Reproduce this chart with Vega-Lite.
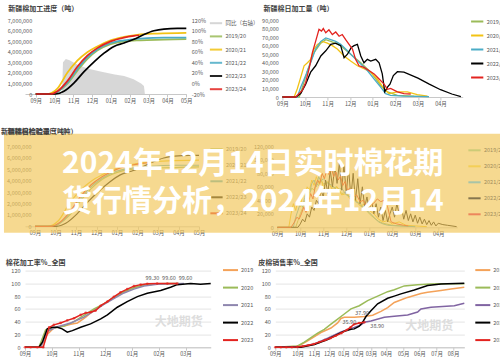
{
"$schema":"https://vega.github.io/schema/vega-lite/v6.json",
"background":"white",
"padding":{"left":0,"top":4,"right":0,"bottom":0},
"config":{
 "font":"Noto Sans CJK SC",
 "view":{"stroke":null},
 "axis":{"labelFontSize":5.5,"labelColor":"#595959","grid":false,"domain":false,"ticks":false,"labelPadding":4,"labelOverlap":false,"labelFlush":false},
 "axisX":{"domain":true,"domainColor":"#c8c8c8","ticks":true,"tickColor":"#c8c8c8","tickSize":3,"labelPadding":1,"labelOverlap":false,"tickCount":60},
 "legend":{"title":null,"labelFontSize":5.5,"labelColor":"#595959","symbolType":"stroke","symbolStrokeWidth":2,"symbolSize":150,"padding":0,"labelOffset":2,"orient":"none"},
 "title":{"fontSize":7,"fontWeight":"bold","color":"#404040","anchor":"start","frame":"bounds","offset":8}
},
"datasets":{
 "A":[
  {"s":"2019/20","m":0,"v":0},{"s":"2019/20","m":0.9,"v":0},{"s":"2019/20","m":1.15,"v":200000},{"s":"2019/20","m":1.68,"v":960000},{"s":"2019/20","m":2.21,"v":2190000},{"s":"2019/20","m":2.74,"v":3300000},{"s":"2019/20","m":3.27,"v":4100000},{"s":"2019/20","m":3.98,"v":4700000},{"s":"2019/20","m":4.69,"v":4980000},{"s":"2019/20","m":5.58,"v":5080000},{"s":"2019/20","m":6.81,"v":5140000},{"s":"2019/20","m":8,"v":5200000},
  {"s":"2020/21","m":0,"v":0},{"s":"2020/21","m":0.62,"v":0},{"s":"2020/21","m":1.15,"v":510000},{"s":"2020/21","m":1.68,"v":2000000},{"s":"2020/21","m":2.21,"v":3150000},{"s":"2020/21","m":2.74,"v":3950000},{"s":"2020/21","m":3.27,"v":4500000},{"s":"2020/21","m":3.98,"v":5080000},{"s":"2020/21","m":4.69,"v":5400000},{"s":"2020/21","m":5.4,"v":5600000},{"s":"2020/21","m":6.46,"v":5720000},{"s":"2020/21","m":8,"v":5790000},
  {"s":"2021/22","m":0,"v":0},{"s":"2021/22","m":0.9,"v":0},{"s":"2021/22","m":1.15,"v":190000},{"s":"2021/22","m":1.68,"v":1060000},{"s":"2021/22","m":2.21,"v":2350000},{"s":"2021/22","m":2.74,"v":3470000},{"s":"2021/22","m":3.27,"v":4210000},{"s":"2021/22","m":3.98,"v":4820000},{"s":"2021/22","m":4.69,"v":5080000},{"s":"2021/22","m":5.58,"v":5240000},{"s":"2021/22","m":6.81,"v":5340000},{"s":"2021/22","m":8,"v":5340000},
  {"s":"2022/23","m":0,"v":0},{"s":"2022/23","m":1.06,"v":0},{"s":"2022/23","m":1.5,"v":260000},{"s":"2022/23","m":2.04,"v":1060000},{"s":"2022/23","m":2.57,"v":2120000},{"s":"2022/23","m":3.1,"v":3050000},{"s":"2022/23","m":3.63,"v":3860000},{"s":"2022/23","m":4.16,"v":4500000},{"s":"2022/23","m":4.69,"v":4820000},{"s":"2022/23","m":5.22,"v":5180000},{"s":"2022/23","m":5.75,"v":5630000},{"s":"2022/23","m":6.28,"v":5980000},{"s":"2022/23","m":6.81,"v":6140000},{"s":"2022/23","m":7.52,"v":6200000},{"s":"2022/23","m":8,"v":6200000},
  {"s":"2023/24","m":0,"v":0},{"s":"2023/24","m":0.8,"v":0},{"s":"2023/24","m":1.15,"v":260000},{"s":"2023/24","m":1.68,"v":1220000},{"s":"2023/24","m":2.21,"v":2570000},{"s":"2023/24","m":2.74,"v":3630000},{"s":"2023/24","m":3.27,"v":4340000},{"s":"2023/24","m":3.98,"v":4980000},{"s":"2023/24","m":4.69,"v":5340000},{"s":"2023/24","m":5.22,"v":5500000},{"s":"2023/24","m":5.5,"v":5560000}
 ],
 "Aarea":[
  {"m":1.4,"p":-20},{"m":1.45,"p":40},{"m":1.6,"p":46},{"m":1.8,"p":44},{"m":2.2,"p":36},{"m":2.8,"p":28},{"m":3.5,"p":22},{"m":4.2,"p":17},{"m":4.7,"p":14},{"m":5.2,"p":8},{"m":5.6,"p":0},{"m":5.75,"p":-5},{"m":5.8,"p":-20}
 ],
 "B":[
  {"s":"2019/20","m":0,"v":0},{"s":"2019/20","m":0.74,"v":0},{"s":"2019/20","m":0.81,"v":5000},{"s":"2019/20","m":1.11,"v":31000},{"s":"2019/20","m":1.4,"v":52000},{"s":"2019/20","m":1.7,"v":63000},{"s":"2019/20","m":1.92,"v":67000},{"s":"2019/20","m":2.14,"v":65000},{"s":"2019/20","m":2.58,"v":60000},{"s":"2019/20","m":3.02,"v":50000},{"s":"2019/20","m":3.47,"v":40000},{"s":"2019/20","m":3.91,"v":29000},{"s":"2019/20","m":4.35,"v":13500},{"s":"2019/20","m":4.65,"v":6000},{"s":"2019/20","m":5.09,"v":2000},{"s":"2019/20","m":5.83,"v":1000},{"s":"2019/20","m":6.49,"v":500},
  {"s":"2020/21","m":0,"v":0},{"s":"2020/21","m":0.52,"v":0},{"s":"2020/21","m":0.66,"v":9600},{"s":"2020/21","m":0.81,"v":23000},{"s":"2020/21","m":0.96,"v":36500},{"s":"2020/21","m":1.11,"v":40000},{"s":"2020/21","m":1.25,"v":44000},{"s":"2020/21","m":1.4,"v":56000},{"s":"2020/21","m":1.55,"v":61500},{"s":"2020/21","m":1.77,"v":65000},{"s":"2020/21","m":1.99,"v":63000},{"s":"2020/21","m":2.21,"v":60000},{"s":"2020/21","m":2.43,"v":56000},{"s":"2020/21","m":2.73,"v":48000},{"s":"2020/21","m":3.02,"v":42000},{"s":"2020/21","m":3.32,"v":36500},{"s":"2020/21","m":3.61,"v":33000},{"s":"2020/21","m":3.91,"v":29000},{"s":"2020/21","m":4.2,"v":21000},{"s":"2020/21","m":4.5,"v":9600},{"s":"2020/21","m":4.72,"v":4000},{"s":"2020/21","m":5.09,"v":6000},{"s":"2020/21","m":5.53,"v":6000},{"s":"2020/21","m":5.97,"v":2700},{"s":"2020/21","m":6.42,"v":1000},
  {"s":"2021/22","m":0,"v":0},{"s":"2021/22","m":0.66,"v":0},{"s":"2021/22","m":0.81,"v":11500},{"s":"2021/22","m":1.03,"v":25000},{"s":"2021/22","m":1.25,"v":40000},{"s":"2021/22","m":1.47,"v":56000},{"s":"2021/22","m":1.7,"v":65000},{"s":"2021/22","m":1.92,"v":69000},{"s":"2021/22","m":2.14,"v":67000},{"s":"2021/22","m":2.36,"v":65000},{"s":"2021/22","m":2.58,"v":61500},{"s":"2021/22","m":2.88,"v":54000},{"s":"2021/22","m":3.17,"v":46000},{"s":"2021/22","m":3.47,"v":38500},{"s":"2021/22","m":3.76,"v":31000},{"s":"2021/22","m":4.06,"v":21000},{"s":"2021/22","m":4.35,"v":11500},{"s":"2021/22","m":4.57,"v":4000},{"s":"2021/22","m":4.79,"v":2000},{"s":"2021/22","m":5.38,"v":1000},{"s":"2021/22","m":6.49,"v":500},
  {"s":"2022/23","m":0,"v":0},{"s":"2022/23","m":0.59,"v":0},{"s":"2022/23","m":0.81,"v":4000},{"s":"2022/23","m":1.03,"v":15000},{"s":"2022/23","m":1.25,"v":29000},{"s":"2022/23","m":1.47,"v":36500},{"s":"2022/23","m":1.7,"v":48000},{"s":"2022/23","m":1.92,"v":54000},{"s":"2022/23","m":2.14,"v":61500},{"s":"2022/23","m":2.36,"v":63000},{"s":"2022/23","m":2.58,"v":60000},{"s":"2022/23","m":2.73,"v":46000},{"s":"2022/23","m":2.88,"v":50000},{"s":"2022/23","m":3.05,"v":58000},{"s":"2022/23","m":3.17,"v":60000},{"s":"2022/23","m":3.32,"v":61500},{"s":"2022/23","m":3.47,"v":48000},{"s":"2022/23","m":3.61,"v":40000},{"s":"2022/23","m":3.76,"v":44000},{"s":"2022/23","m":3.91,"v":42000},{"s":"2022/23","m":4.13,"v":44000},{"s":"2022/23","m":4.28,"v":40000},{"s":"2022/23","m":4.42,"v":27000},{"s":"2022/23","m":4.53,"v":6000},{"s":"2022/23","m":4.65,"v":11500},{"s":"2022/23","m":4.76,"v":15000},{"s":"2022/23","m":4.91,"v":25000},{"s":"2022/23","m":5.09,"v":29600},{"s":"2022/23","m":5.38,"v":29000},{"s":"2022/23","m":6.0,"v":22000},{"s":"2022/23","m":6.5,"v":15000},{"s":"2022/23","m":7.0,"v":8500},{"s":"2022/23","m":7.5,"v":3500},{"s":"2022/23","m":7.9,"v":500},
  {"s":"2023/24","m":0,"v":0},{"s":"2023/24","m":0.59,"v":0},{"s":"2023/24","m":0.74,"v":4000},{"s":"2023/24","m":0.88,"v":7700},{"s":"2023/24","m":1.03,"v":17000},{"s":"2023/24","m":1.18,"v":33000},{"s":"2023/24","m":1.33,"v":52000},{"s":"2023/24","m":1.47,"v":65000},{"s":"2023/24","m":1.62,"v":79000},{"s":"2023/24","m":1.73,"v":77000},{"s":"2023/24","m":1.81,"v":80000},{"s":"2023/24","m":1.92,"v":75000},{"s":"2023/24","m":2.06,"v":78500},{"s":"2023/24","m":2.21,"v":73000},{"s":"2023/24","m":2.36,"v":76000},{"s":"2023/24","m":2.51,"v":71000},{"s":"2023/24","m":2.65,"v":73000},{"s":"2023/24","m":2.8,"v":67000},{"s":"2023/24","m":2.95,"v":61500},{"s":"2023/24","m":3.1,"v":56000},{"s":"2023/24","m":3.24,"v":44000},{"s":"2023/24","m":3.39,"v":36500},{"s":"2023/24","m":3.61,"v":34600},{"s":"2023/24","m":3.83,"v":31000},{"s":"2023/24","m":4.06,"v":27000},{"s":"2023/24","m":4.28,"v":21000},{"s":"2023/24","m":4.5,"v":15000},{"s":"2023/24","m":4.65,"v":9000},{"s":"2023/24","m":4.79,"v":10000},{"s":"2023/24","m":5.09,"v":6000},{"s":"2023/24","m":5.38,"v":4000},{"s":"2023/24","m":5.68,"v":3500}
 ],
 "D":[
  {"s":"2019/20","m":0,"v":0},{"s":"2019/20","m":0.8,"v":0},{"s":"2019/20","m":0.9,"v":10000},{"s":"2019/20","m":1.0,"v":20000},{"s":"2019/20","m":1.1,"v":28000},{"s":"2019/20","m":1.2,"v":40000},{"s":"2019/20","m":1.3,"v":35000},{"s":"2019/20","m":1.4,"v":50000},{"s":"2019/20","m":1.5,"v":58000},{"s":"2019/20","m":1.6,"v":55000},{"s":"2019/20","m":1.7,"v":65000},{"s":"2019/20","m":1.8,"v":62000},{"s":"2019/20","m":1.9,"v":70000},{"s":"2019/20","m":2.0,"v":64000},{"s":"2019/20","m":2.2,"v":66000},{"s":"2019/20","m":2.4,"v":58000},{"s":"2019/20","m":2.6,"v":60000},{"s":"2019/20","m":2.8,"v":50000},{"s":"2019/20","m":3.0,"v":52000},{"s":"2019/20","m":3.2,"v":42000},{"s":"2019/20","m":3.4,"v":40000},{"s":"2019/20","m":3.6,"v":32000},{"s":"2019/20","m":3.8,"v":28000},{"s":"2019/20","m":4.0,"v":20000},{"s":"2019/20","m":4.2,"v":14000},{"s":"2019/20","m":4.4,"v":9000},{"s":"2019/20","m":4.6,"v":6000},{"s":"2019/20","m":5.0,"v":3000},{"s":"2019/20","m":5.5,"v":2000},{"s":"2019/20","m":6.0,"v":1000},
  {"s":"2020/21","m":0,"v":0},{"s":"2020/21","m":0.5,"v":0},{"s":"2020/21","m":0.6,"v":20000},{"s":"2020/21","m":0.7,"v":35000},{"s":"2020/21","m":0.8,"v":25000},{"s":"2020/21","m":0.9,"v":40000},{"s":"2020/21","m":1.0,"v":30000},{"s":"2020/21","m":1.1,"v":50000},{"s":"2020/21","m":1.2,"v":45000},{"s":"2020/21","m":1.3,"v":60000},{"s":"2020/21","m":1.4,"v":55000},{"s":"2020/21","m":1.5,"v":70000},{"s":"2020/21","m":1.6,"v":62000},{"s":"2020/21","m":1.7,"v":75000},{"s":"2020/21","m":1.8,"v":65000},{"s":"2020/21","m":1.9,"v":72000},{"s":"2020/21","m":2.0,"v":60000},{"s":"2020/21","m":2.2,"v":68000},{"s":"2020/21","m":2.4,"v":55000},{"s":"2020/21","m":2.6,"v":60000},{"s":"2020/21","m":2.8,"v":48000},{"s":"2020/21","m":3.0,"v":50000},{"s":"2020/21","m":3.2,"v":40000},{"s":"2020/21","m":3.4,"v":42000},{"s":"2020/21","m":3.6,"v":32000},{"s":"2020/21","m":3.8,"v":34000},{"s":"2020/21","m":4.0,"v":25000},{"s":"2020/21","m":4.2,"v":20000},{"s":"2020/21","m":4.4,"v":12000},{"s":"2020/21","m":4.6,"v":8000},{"s":"2020/21","m":4.8,"v":10000},{"s":"2020/21","m":5.0,"v":5000},{"s":"2020/21","m":5.3,"v":8000},{"s":"2020/21","m":5.6,"v":3000},{"s":"2020/21","m":6.0,"v":2000},{"s":"2020/21","m":6.5,"v":1000},
  {"s":"2021/22","m":0,"v":0},{"s":"2021/22","m":0.7,"v":0},{"s":"2021/22","m":0.8,"v":15000},{"s":"2021/22","m":0.9,"v":25000},{"s":"2021/22","m":1.0,"v":35000},{"s":"2021/22","m":1.1,"v":30000},{"s":"2021/22","m":1.2,"v":45000},{"s":"2021/22","m":1.3,"v":55000},{"s":"2021/22","m":1.4,"v":50000},{"s":"2021/22","m":1.5,"v":65000},{"s":"2021/22","m":1.6,"v":70000},{"s":"2021/22","m":1.7,"v":60000},{"s":"2021/22","m":1.8,"v":75000},{"s":"2021/22","m":1.9,"v":68000},{"s":"2021/22","m":2.0,"v":72000},{"s":"2021/22","m":2.2,"v":65000},{"s":"2021/22","m":2.4,"v":62000},{"s":"2021/22","m":2.6,"v":55000},{"s":"2021/22","m":2.8,"v":58000},{"s":"2021/22","m":3.0,"v":48000},{"s":"2021/22","m":3.2,"v":45000},{"s":"2021/22","m":3.4,"v":38000},{"s":"2021/22","m":3.6,"v":35000},{"s":"2021/22","m":3.8,"v":28000},{"s":"2021/22","m":4.0,"v":22000},{"s":"2021/22","m":4.2,"v":15000},{"s":"2021/22","m":4.4,"v":8000},{"s":"2021/22","m":4.6,"v":5000},{"s":"2021/22","m":4.8,"v":3000},{"s":"2021/22","m":5.2,"v":2000},{"s":"2021/22","m":6.0,"v":1000},
  {"s":"2022/23","m":0,"v":0},{"s":"2022/23","m":0.9,"v":0},{"s":"2022/23","m":1.0,"v":5000},{"s":"2022/23","m":1.1,"v":12000},{"s":"2022/23","m":1.2,"v":8000},{"s":"2022/23","m":1.3,"v":20000},{"s":"2022/23","m":1.4,"v":15000},{"s":"2022/23","m":1.5,"v":30000},{"s":"2022/23","m":1.6,"v":25000},{"s":"2022/23","m":1.7,"v":40000},{"s":"2022/23","m":1.8,"v":35000},{"s":"2022/23","m":1.9,"v":55000},{"s":"2022/23","m":2.0,"v":45000},{"s":"2022/23","m":2.1,"v":70000},{"s":"2022/23","m":2.2,"v":50000},{"s":"2022/23","m":2.3,"v":85000},{"s":"2022/23","m":2.4,"v":60000},{"s":"2022/23","m":2.5,"v":90000},{"s":"2022/23","m":2.6,"v":65000},{"s":"2022/23","m":2.7,"v":95000},{"s":"2022/23","m":2.8,"v":55000},{"s":"2022/23","m":2.9,"v":92000},{"s":"2022/23","m":3.0,"v":50000},{"s":"2022/23","m":3.1,"v":88000},{"s":"2022/23","m":3.2,"v":45000},{"s":"2022/23","m":3.3,"v":80000},{"s":"2022/23","m":3.4,"v":40000},{"s":"2022/23","m":3.5,"v":72000},{"s":"2022/23","m":3.6,"v":35000},{"s":"2022/23","m":3.7,"v":60000},{"s":"2022/23","m":3.8,"v":30000},{"s":"2022/23","m":3.9,"v":45000},{"s":"2022/23","m":4.0,"v":25000},{"s":"2022/23","m":4.1,"v":40000},{"s":"2022/23","m":4.2,"v":20000},{"s":"2022/23","m":4.3,"v":35000},{"s":"2022/23","m":4.4,"v":15000},{"s":"2022/23","m":4.5,"v":30000},{"s":"2022/23","m":4.6,"v":10000},{"s":"2022/23","m":4.7,"v":25000},{"s":"2022/23","m":4.8,"v":8000},{"s":"2022/23","m":4.9,"v":20000},{"s":"2022/23","m":5.0,"v":30000},{"s":"2022/23","m":5.1,"v":15000},{"s":"2022/23","m":5.2,"v":35000},{"s":"2022/23","m":5.3,"v":20000},{"s":"2022/23","m":5.4,"v":30000},{"s":"2022/23","m":5.5,"v":12000},{"s":"2022/23","m":5.6,"v":25000},{"s":"2022/23","m":5.7,"v":10000},{"s":"2022/23","m":5.8,"v":20000},{"s":"2022/23","m":5.9,"v":8000},{"s":"2022/23","m":6.0,"v":18000},{"s":"2022/23","m":6.1,"v":6000},{"s":"2022/23","m":6.2,"v":15000},{"s":"2022/23","m":6.3,"v":5000},{"s":"2022/23","m":6.4,"v":12000},{"s":"2022/23","m":6.5,"v":4000},{"s":"2022/23","m":6.6,"v":10000},{"s":"2022/23","m":6.7,"v":3000},{"s":"2022/23","m":6.8,"v":8000},{"s":"2022/23","m":6.9,"v":2000},{"s":"2022/23","m":7.0,"v":6000},{"s":"2022/23","m":7.2,"v":4000},{"s":"2022/23","m":7.4,"v":3000},{"s":"2022/23","m":7.6,"v":2000},{"s":"2022/23","m":7.8,"v":1000},
  {"s":"2023/24","m":0,"v":0},{"s":"2023/24","m":0.6,"v":0},{"s":"2023/24","m":0.75,"v":8000},{"s":"2023/24","m":0.85,"v":15000},{"s":"2023/24","m":0.95,"v":12000},{"s":"2023/24","m":1.05,"v":20000},{"s":"2023/24","m":1.15,"v":30000},{"s":"2023/24","m":1.25,"v":22000},{"s":"2023/24","m":1.35,"v":35000},{"s":"2023/24","m":1.45,"v":50000},{"s":"2023/24","m":1.55,"v":42000},{"s":"2023/24","m":1.65,"v":60000},{"s":"2023/24","m":1.75,"v":70000},{"s":"2023/24","m":1.85,"v":65000},{"s":"2023/24","m":1.95,"v":80000},{"s":"2023/24","m":2.05,"v":72000},{"s":"2023/24","m":2.15,"v":85000},{"s":"2023/24","m":2.25,"v":78000},{"s":"2023/24","m":2.35,"v":88000},{"s":"2023/24","m":2.45,"v":75000},{"s":"2023/24","m":2.55,"v":82000},{"s":"2023/24","m":2.65,"v":70000},{"s":"2023/24","m":2.75,"v":76000},{"s":"2023/24","m":2.85,"v":62000},{"s":"2023/24","m":2.95,"v":68000},{"s":"2023/24","m":3.05,"v":55000},{"s":"2023/24","m":3.15,"v":58000},{"s":"2023/24","m":3.3,"v":45000},{"s":"2023/24","m":3.45,"v":48000},{"s":"2023/24","m":3.6,"v":38000},{"s":"2023/24","m":3.75,"v":40000},{"s":"2023/24","m":3.9,"v":30000},{"s":"2023/24","m":4.05,"v":32000},{"s":"2023/24","m":4.2,"v":36000},{"s":"2023/24","m":4.35,"v":42000},{"s":"2023/24","m":4.5,"v":38000},{"s":"2023/24","m":4.65,"v":40000},{"s":"2023/24","m":4.8,"v":30000},{"s":"2023/24","m":4.95,"v":8000},{"s":"2023/24","m":5.2,"v":5000},{"s":"2023/24","m":5.5,"v":3000},{"s":"2023/24","m":5.7,"v":2000}
 ],
 "E":[
  {"s":"2019","m":0,"v":0},{"s":"2019","m":0.59,"v":0},{"s":"2019","m":0.83,"v":20},{"s":"2019","m":1.08,"v":30},{"s":"2019","m":1.46,"v":33},{"s":"2019","m":1.71,"v":36},{"s":"2019","m":1.96,"v":38},{"s":"2019","m":2.27,"v":47},{"s":"2019","m":2.58,"v":58},{"s":"2019","m":2.95,"v":68},{"s":"2019","m":3.32,"v":78},{"s":"2019","m":3.7,"v":86},{"s":"2019","m":4.07,"v":93},{"s":"2019","m":4.45,"v":97},{"s":"2019","m":4.94,"v":99.3},{"s":"2019","m":5.69,"v":99.5},
  {"s":"2020","m":0,"v":0},{"s":"2020","m":0.52,"v":0},{"s":"2020","m":0.77,"v":27},{"s":"2020","m":1.08,"v":30},{"s":"2020","m":1.46,"v":33},{"s":"2020","m":1.83,"v":40},{"s":"2020","m":2.2,"v":50},{"s":"2020","m":2.58,"v":60},{"s":"2020","m":2.95,"v":68},{"s":"2020","m":3.32,"v":78},{"s":"2020","m":3.7,"v":87},{"s":"2020","m":4.07,"v":93},{"s":"2020","m":4.45,"v":97},{"s":"2020","m":4.94,"v":99.3},{"s":"2020","m":5.44,"v":99.6},{"s":"2020","m":5.75,"v":99.6},
  {"s":"2021","m":0,"v":0},{"s":"2021","m":0.59,"v":0},{"s":"2021","m":0.83,"v":25},{"s":"2021","m":1.21,"v":32},{"s":"2021","m":1.71,"v":38},{"s":"2021","m":2.2,"v":47},{"s":"2021","m":2.58,"v":57},{"s":"2021","m":2.95,"v":67},{"s":"2021","m":3.32,"v":76},{"s":"2021","m":3.7,"v":85},{"s":"2021","m":4.07,"v":91},{"s":"2021","m":4.45,"v":96},{"s":"2021","m":4.94,"v":98.5},{"s":"2021","m":5.44,"v":99.3},{"s":"2021","m":5.94,"v":99.6},
  {"s":"2022","m":0,"v":0},{"s":"2022","m":0.52,"v":0},{"s":"2022","m":0.65,"v":7.8},{"s":"2022","m":0.83,"v":28.7},{"s":"2022","m":1.02,"v":31.3},{"s":"2022","m":1.21,"v":31.3},{"s":"2022","m":1.39,"v":28.7},{"s":"2022","m":1.58,"v":23.5},{"s":"2022","m":1.77,"v":26},{"s":"2022","m":2.08,"v":31.3},{"s":"2022","m":2.45,"v":36.5},{"s":"2022","m":2.83,"v":44.3},{"s":"2022","m":3.08,"v":50.6},{"s":"2022","m":3.45,"v":62.6},{"s":"2022","m":3.82,"v":71.5},{"s":"2022","m":4.2,"v":79.3},{"s":"2022","m":4.57,"v":84.5},{"s":"2022","m":5.07,"v":88.7},{"s":"2022","m":5.44,"v":94},{"s":"2022","m":5.69,"v":98},{"s":"2022","m":6.19,"v":99.6},{"s":"2022","m":6.56,"v":98.6},{"s":"2022","m":6.94,"v":99.6},
  {"s":"2023","m":0,"v":0},{"s":"2023","m":0.21,"v":0},{"s":"2023","m":0.46,"v":0},{"s":"2023","m":0.68,"v":0},{"s":"2023","m":0.9,"v":31},{"s":"2023","m":1.08,"v":35},{"s":"2023","m":1.33,"v":38},{"s":"2023","m":1.58,"v":42},{"s":"2023","m":1.83,"v":45.4},{"s":"2023","m":2.08,"v":50.6},{"s":"2023","m":2.27,"v":53.8},{"s":"2023","m":2.45,"v":54.8},{"s":"2023","m":2.64,"v":57.4},{"s":"2023","m":2.83,"v":65},{"s":"2023","m":3.08,"v":71.5},{"s":"2023","m":3.32,"v":79},{"s":"2023","m":3.57,"v":86},{"s":"2023","m":3.82,"v":91},{"s":"2023","m":4.07,"v":95.6},{"s":"2023","m":4.32,"v":98},{"s":"2023","m":4.57,"v":99.3},{"s":"2023","m":4.94,"v":99.6},{"s":"2023","m":5.32,"v":99.6},{"s":"2023","m":5.69,"v":99.6}
 ],
 "Elab":[{"t":"99.30","m":4.76,"v":109},{"t":"99.60","m":5.38,"v":109},{"t":"99.60","m":6.0,"v":109}],
 "F":[
  {"s":"2019","t":0,"v":0},{"s":"2019","t":6.09,"v":1},{"s":"2019","t":8.82,"v":10},{"s":"2019","t":12.45,"v":23},{"s":"2019","t":15.18,"v":30},{"s":"2019","t":17,"v":38},{"s":"2019","t":17.9,"v":45},{"s":"2019","t":18.82,"v":47},{"s":"2019","t":21.55,"v":47},{"s":"2019","t":24.27,"v":48},{"s":"2019","t":26.55,"v":50},{"s":"2019","t":28.82,"v":56},{"s":"2019","t":30.64,"v":62},{"s":"2019","t":32.45,"v":70},{"s":"2019","t":34.73,"v":75},{"s":"2019","t":36.09,"v":78},{"s":"2019","t":39.73,"v":84},{"s":"2019","t":41.55,"v":86},{"s":"2019","t":45.18,"v":88.7},{"s":"2019","t":47.91,"v":91},{"s":"2019","t":51.55,"v":94},
  {"s":"2020","t":0,"v":0},{"s":"2020","t":6.09,"v":2},{"s":"2020","t":7.91,"v":8},{"s":"2020","t":9.73,"v":15},{"s":"2020","t":11.55,"v":22},{"s":"2020","t":13.36,"v":28},{"s":"2020","t":15.18,"v":36},{"s":"2020","t":17,"v":44},{"s":"2020","t":18.82,"v":52},{"s":"2020","t":20.64,"v":60},{"s":"2020","t":22.91,"v":65},{"s":"2020","t":25.18,"v":73},{"s":"2020","t":27.91,"v":80},{"s":"2020","t":30.64,"v":87},{"s":"2020","t":32.45,"v":90},{"s":"2020","t":35.18,"v":96},{"s":"2020","t":38.82,"v":98},{"s":"2020","t":42.45,"v":99},{"s":"2020","t":45.18,"v":99.5},{"s":"2020","t":51.55,"v":99.5},
  {"s":"2021","t":0,"v":0},{"s":"2021","t":7,"v":1},{"s":"2021","t":10.64,"v":5},{"s":"2021","t":14.27,"v":14},{"s":"2021","t":17.91,"v":24},{"s":"2021","t":21.55,"v":31},{"s":"2021","t":23.36,"v":35},{"s":"2021","t":24.27,"v":39},{"s":"2021","t":26.09,"v":41},{"s":"2021","t":29.73,"v":47},{"s":"2021","t":32.45,"v":48.5},{"s":"2021","t":36.09,"v":50.6},{"s":"2021","t":38.82,"v":55},{"s":"2021","t":39.73,"v":60},{"s":"2021","t":42.45,"v":62.6},{"s":"2021","t":48.82,"v":65},{"s":"2021","t":51.55,"v":69},
  {"s":"2022","t":0,"v":0},{"s":"2022","t":7,"v":0},{"s":"2022","t":10.64,"v":4},{"s":"2022","t":14.27,"v":12},{"s":"2022","t":17,"v":20},{"s":"2022","t":18.82,"v":25},{"s":"2022","t":20.64,"v":28},{"s":"2022","t":21.55,"v":28.7},{"s":"2022","t":22.91,"v":33},{"s":"2022","t":23.8,"v":39},{"s":"2022","t":24.73,"v":48},{"s":"2022","t":26.09,"v":57},{"s":"2022","t":27.91,"v":68},{"s":"2022","t":30.64,"v":76.7},{"s":"2022","t":32.45,"v":80},{"s":"2022","t":34.27,"v":83.5},{"s":"2022","t":37.91,"v":89.7},{"s":"2022","t":41.55,"v":96.5},{"s":"2022","t":45.18,"v":99},{"s":"2022","t":47,"v":99.5},{"s":"2022","t":51.55,"v":100},
  {"s":"2023","t":0,"v":0},{"s":"2023","t":1.5,"v":0},{"s":"2023","t":3,"v":0},{"s":"2023","t":4.5,"v":0},{"s":"2023","t":6,"v":0.5},{"s":"2023","t":7.5,"v":1.5},{"s":"2023","t":9,"v":3},{"s":"2023","t":10.5,"v":5},{"s":"2023","t":12,"v":8},{"s":"2023","t":13.5,"v":11},{"s":"2023","t":15,"v":14},{"s":"2023","t":16.5,"v":18},{"s":"2023","t":18,"v":22},{"s":"2023","t":19.5,"v":27},{"s":"2023","t":20.5,"v":31},{"s":"2023","t":21.5,"v":35.9},{"s":"2023","t":22.9,"v":37.9},{"s":"2023","t":24.3,"v":38.9}
 ],
 "Flab":[{"t":"37.90","x":23.7,"v":53.7},{"t":"35.90","x":20.2,"v":39.6},{"t":"38.90","x":27.8,"v":33.4}]
},
"concat":[
 {"concat":[
  {"width":161.3,"height":74,
   "title":{"text":"新疆棉加工进度（吨）","dx":1,"offset":4.2},
   "layer":[
    {"data":{"name":"Aarea"},"mark":{"type":"area","color":"#dcdcdc","opacity":0.85},
     "encoding":{
      "x":{"field":"m","type":"quantitative","title":null,"scale":{"domain":[-0.568,8],"nice":false},"axis":{"labelOverlap":false,"tickCount":60,"values":[0,1,2,3,4,5,6,7,8],"labelExpr":"['09月','10月','11月','12月','01月','02月','03月','04月','05月'][datum.value]"}},
      "y":{"field":"p","type":"quantitative","title":null,"scale":{"domain":[-20,120],"nice":false},"axis":{"orient":"right","labelPadding":5,"tickCount":60,"values":[-20,0,20,40,60,80,100,120],"labelExpr":"datum.value + '%'"}},
      "y2":{"datum":-20},
      "color":{"datum":"同比（右轴）","type":"nominal","scale":{"domain":["同比（右轴）","2019/20","2020/21","2021/22","2022/23","2023/24"],"range":["#d0d0d0","#9bbb59","#f2c314","#4bacc6","#000000","#e3231f"]},"legend":{"rowPadding":1.2,"legendX":183.5,"legendY":-4.3}}
     }},
    {"data":{"name":"A"},"mark":{"type":"line","interpolate":"monotone","strokeWidth":1.7},
     "encoding":{
      "x":{"field":"m","type":"quantitative","title":null,"scale":{"domain":[-0.568,8],"nice":false}},
      "y":{"field":"v","type":"quantitative","title":null,"scale":{"domain":[0,7000000],"nice":false},"axis":{"orient":"left","offset":-10.7,"tickCount":60,"values":[0,1000000,2000000,3000000,4000000,5000000,6000000,7000000],"format":",d"}},
      "color":{"field":"s","type":"nominal","legend":{"rowPadding":1.2,"legendX":183.5,"legendY":-4.3}}
     }}
   ],
   "resolve":{"scale":{"y":"independent"}}
  },
  {"width":180.3,"height":77,
   "title":{"text":"新疆棉日加工量（吨）","dx":2,"offset":2.5},
   "data":{"name":"B"},
   "mark":{"type":"line","strokeWidth":1.3},
   "encoding":{
    "x":{"field":"m","type":"quantitative","title":null,"scale":{"domain":[0,7.98],"nice":false},"axis":{"labelOverlap":false,"tickCount":60,"values":[0,1,2,3,4,5,6,7],"labelExpr":"['09月','10月','11月','12月','01月','02月','03月','04月'][datum.value]"}},
    "y":{"field":"v","type":"quantitative","title":null,"scale":{"domain":[0,90000],"nice":false},"axis":{"tickCount":60,"values":[0,10000,20000,30000,40000,50000,60000,70000,80000,90000],"format":",d"}},
    "color":{"field":"s","type":"nominal","scale":{"domain":["2019/20","2020/21","2021/22","2022/23","2023/24"],"range":["#9bbb59","#f2c314","#4bacc6","#000000","#e3231f"]},"legend":{"rowPadding":2.0,"legendX":187.3,"legendY":-6}}
   }
  }
 ],"columns":2,"align":"none","bounds":"flush","spacing":95.4,"resolve":{"scale":{"color":"independent"},"legend":{"color":"independent"}}},
 {"concat":[
  {"width":174,"height":80,
   "title":{"text":"新疆棉检验进度（吨）","dx":1,"offset":6.5},
   "data":{"name":"A"},
   "mark":{"type":"line","interpolate":"monotone","strokeWidth":1.2},
   "encoding":{
    "x":{"field":"m","type":"quantitative","title":null,"scale":{"domain":[-0.488,8],"nice":false},"axis":{"labelOverlap":false,"tickCount":60,"values":[0,1,2,3,4,5,6,7,8],"labelExpr":"['09月','10月','11月','12月','01月','02月','03月','04月','05月'][datum.value]"}},
    "y":{"field":"v","type":"quantitative","title":null,"scale":{"domain":[0,7000000],"nice":false},"axis":{"offset":-10,"tickCount":60,"values":[0,1000000,2000000,3000000,4000000,5000000,6000000,7000000],"format":",d"}},
    "color":{"field":"s","type":"nominal","scale":{"domain":["2019/20","2020/21","2021/22","2022/23","2023/24"],"range":["#9bbb59","#f2c314","#4bacc6","#000000","#e3231f"]},"legend":{"rowPadding":4,"legendX":184,"legendY":-4.5}}
   }
  },
  {"width":180,"height":81,
   "title":{"text":"新疆棉日检验量（吨）","dx":-3,"offset":-1.5},
   "layer":[
    {"data":{"name":"D"},"mark":{"type":"line","strokeWidth":1},
     "encoding":{
      "x":{"field":"m","type":"quantitative","title":null,"scale":{"domain":[0,7.83],"nice":false},"axis":{"labelOverlap":false,"tickCount":60,"values":[0,1,2,3,4,5,6,7],"labelExpr":"['09月','10月','11月','12月','01月','02月','03月','04月'][datum.value]"}},
      "y":{"field":"v","type":"quantitative","title":null,"scale":{"domain":[0,120000],"nice":false},"axis":{"tickCount":60,"values":[0,20000,40000,60000,80000,100000,120000],"format":",d"}},
      "color":{"field":"s","type":"nominal","scale":{"domain":["2019/20","2020/21","2021/22","2022/23","2023/24"],"range":["#9bbb59","#f2c314","#4bacc6","#000000","#e3231f"]},"legend":{"rowPadding":4,"legendX":189.7,"legendY":-3.5,"symbolOpacity":0.45,"labelColor":"#a08c5c"}}
     }},
    {"data":{"values":[{"x1":-11.89,"x2":10,"y1":-8150,"y2":138500}]},"mark":{"type":"rect","color":"#f2c75c","opacity":0.68},
     "encoding":{
      "x":{"field":"x1","type":"quantitative","scale":{"domain":[0,7.83],"nice":false}},"x2":{"field":"x2"},
      "y":{"field":"y1","type":"quantitative","scale":{"domain":[0,120000],"nice":false}},"y2":{"field":"y2"}
     }},
    {"data":{"values":[{"t":"2024年12月14日实时棉花期","x":-9.365,"y":94000},{"t":"货行情分析，2024年12月14","x":-9.365,"y":37800}]},
     "mark":{"type":"text","align":"left","baseline":"middle","fontSize":30,"fontWeight":"bold","color":"white","font":"Noto Sans CJK SC"},
     "encoding":{
      "x":{"field":"x","type":"quantitative","scale":{"domain":[0,7.83],"nice":false}},
      "y":{"field":"y","type":"quantitative","scale":{"domain":[0,120000],"nice":false}},
      "text":{"field":"t"}
     }}
   ]
  }
 ],"columns":2,"align":"none","bounds":"flush","spacing":78.3,"resolve":{"scale":{"color":"independent"},"legend":{"color":"independent"}}},
 {"concat":[
  {"width":185.7,"height":76.6,
   "title":{"text":"棉花加工率%_全国","dx":-5,"offset":-4.1},
   "layer":[
    {"data":{"values":[{"t":"大地期货","m":5.75,"v":39.6}]},"mark":{"type":"text","fontSize":12,"fontWeight":"bold","color":"#dddddd"},
     "encoding":{"x":{"field":"m","type":"quantitative","scale":{"domain":[0,6.94],"nice":false}},"y":{"field":"v","type":"quantitative","scale":{"domain":[0,120],"nice":false}},"text":{"field":"t"}}},
    {"data":{"name":"E"},"mark":{"type":"line","strokeWidth":1.5},
     "encoding":{
      "x":{"field":"m","type":"quantitative","title":null,"scale":{"domain":[0,6.94],"nice":false},"axis":{"labelOverlap":false,"tickCount":60,"values":[0,1,2,3,4,5,6],"labelExpr":"['09月','10月','11月','12月','01月','02月','03月'][datum.value]"}},
      "y":{"field":"v","type":"quantitative","title":null,"scale":{"domain":[0,120],"nice":false},"axis":{"tickCount":60,"values":[0,20,40,60,80,100,120],"grid":true,"gridColor":"#e4e4e4","labelPadding":5}},
      "color":{"field":"s","type":"nominal","scale":{"domain":["2019","2020","2021","2022","2023"],"range":["#f4a259","#9bbb59","#8e86ae","#000000","#e3231f"]},"legend":{"rowPadding":4.5,"symbolSize":225,"legendX":197,"legendY":-9}}
     }},
    {"data":{"name":"E"},"transform":[{"filter":"datum.s == '2023'"}],"mark":{"type":"point","filled":true,"size":7,"color":"#e3231f"},
     "encoding":{"x":{"field":"m","type":"quantitative"},"y":{"field":"v","type":"quantitative"}}},
    {"data":{"name":"Elab"},"mark":{"type":"text","fontSize":5.5,"color":"#595959"},
     "encoding":{"x":{"field":"m","type":"quantitative"},"y":{"field":"v","type":"quantitative"},"text":{"field":"t"}}}
   ]
  },
  {"width":189,"height":76.6,
   "title":{"text":"皮棉销售率%_全国","dx":-3,"offset":-4.1},
   "layer":[
    {"data":{"values":[{"t":"大地期货","x":42,"v":33.4}]},"mark":{"type":"text","fontSize":12,"fontWeight":"bold","color":"#dddddd"},
     "encoding":{"x":{"field":"x","type":"quantitative","scale":{"domain":[0,51.55],"nice":false}},"y":{"field":"v","type":"quantitative","scale":{"domain":[0,120],"nice":false}},"text":{"field":"t"}}},
    {"data":{"name":"F"},"mark":{"type":"line","strokeWidth":1.5},
     "encoding":{
      "x":{"field":"t","type":"quantitative","title":null,"scale":{"domain":[0,51.55],"nice":false},"axis":{"labelOverlap":false,"tickCount":60,"values":[0,6.1,10.6,14.7,18.6,22.5,26.1,30.2,34.9,39.3,44,48.5],"labelExpr":"['09月','10月','11月','12月','01月','02月','03月','04月','05月','06月','07月','08月'][indexof([0,6.1,10.6,14.7,18.6,22.5,26.1,30.2,34.9,39.3,44,48.5], datum.value)]"}},
      "y":{"field":"v","type":"quantitative","title":null,"scale":{"domain":[0,120],"nice":false},"axis":{"tickCount":60,"values":[0,20,40,60,80,100,120],"grid":true,"gridColor":"#e4e4e4","labelPadding":5}},
      "color":{"field":"s","type":"nominal","scale":{"domain":["2019","2020","2021","2022","2023"],"range":["#f4a259","#9bbb59","#8064a2","#000000","#e3231f"]},"legend":{"rowPadding":4.5,"symbolSize":225,"legendX":199,"legendY":-9}}
     }},
    {"data":{"name":"F"},"transform":[{"filter":"datum.s == '2023'"}],"mark":{"type":"point","filled":true,"size":7,"color":"#e3231f"},
     "encoding":{"x":{"field":"t","type":"quantitative"},"y":{"field":"v","type":"quantitative"}}},
    {"data":{"name":"Flab"},"mark":{"type":"text","fontSize":5.5,"color":"#595959"},
     "encoding":{"x":{"field":"x","type":"quantitative"},"y":{"field":"v","type":"quantitative"},"text":{"field":"t"}}}
   ]
  }
 ],"columns":2,"align":"none","bounds":"flush","spacing":64.3,"resolve":{"scale":{"color":"independent"},"legend":{"color":"independent"}}}
],
"columns":1,
"align":{"row":"none","column":"each"},
"spacing":21.3,
"resolve":{"scale":{"color":"independent"},"legend":{"color":"independent"}}
}
